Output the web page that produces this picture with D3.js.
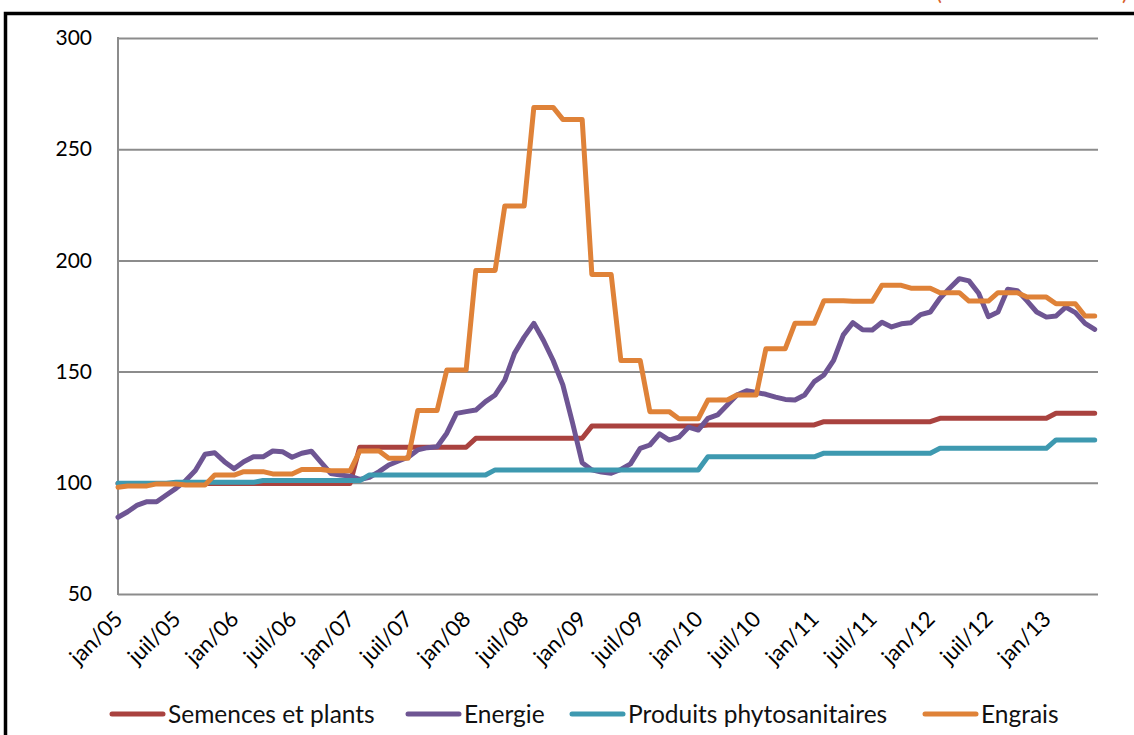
<!DOCTYPE html>
<html>
<head>
<meta charset="utf-8">
<script src="https://cdn.jsdelivr.net/npm/d3@7"></script>
<style>
  html, body { margin: 0; padding: 0; background: #ffffff; }
  svg { display: block; }
  text { font-family: Lato, "Open Sans", "Liberation Sans", sans-serif; }
</style>
</head>
<body>
<svg id="chart" width="1134" height="735"></svg>
<script>
// Monthly index values, jan/05 to juin/13 (base 100)
const monthNames = ["jan", "févr", "mars", "avr", "mai", "juin", "juil", "août", "sept", "oct", "nov", "déc"];
const months = d3.timeMonth.range(new Date(2005, 0, 1), new Date(2013, 6, 1));
const categories = months.map(d => monthNames[d.getMonth()] + "/" + String(d.getFullYear()).slice(2));

const tickLabels = ["jan/05", "juil/05", "jan/06", "juil/06", "jan/07", "juil/07", "jan/08", "juil/08",
  "jan/09", "juil/09", "jan/10", "juil/10", "jan/11", "juil/11", "jan/12", "juil/12", "jan/13"];
const yTicks = [50, 100, 150, 200, 250, 300];

const seriesNames = ["Semences et plants", "Energie", "Produits phytosanitaires", "Engrais"];
const seriesColors = ["#a9423f", "#6e5593", "#3e99b0", "#df8238"];

const semences = [
  99.7, 99.7, 99.7, 99.7, 99.7, 99.7, 99.7, 99.7, 99.7, 99.7, 99.7, 99.7,
  99.7, 99.7, 99.7, 99.7, 99.7, 99.7, 99.7, 99.7, 99.7, 99.7, 99.7, 99.7,
  99.7, 116, 116, 116, 116, 116, 116, 116, 116, 116, 116, 116,
  116, 120, 120, 120, 120, 120, 120, 120, 120, 120, 120, 120,
  120, 125.5, 125.5, 125.5, 125.5, 125.5, 125.5, 125.5, 125.5, 125.5, 125.5, 125.5,
  125.5, 126, 126, 126, 126, 126, 126, 126, 126, 126, 126, 126,
  126, 127.5, 127.5, 127.5, 127.5, 127.5, 127.5, 127.5, 127.5, 127.5, 127.5, 127.5,
  127.5, 129, 129, 129, 129, 129, 129, 129, 129, 129, 129, 129,
  129, 131.3, 131.3, 131.3, 131.3, 131.3
];

const energie = [
  84.5, 87, 90, 91.5, 91.5, 94.5, 97.5, 101, 105.5, 112.8, 113.5, 109.5,
  106.3, 109.5, 111.7, 111.7, 114.3, 114, 111.5, 113.3, 114.2, 109.2, 104.2, 103.5,
  103, 101.5, 102.5, 105, 108, 109.8, 111.5, 114.8, 115.8, 116.2, 122.3, 131.2,
  132, 132.7, 136.5, 139.5, 146.2, 158.2, 165.5, 171.7, 164, 155, 144, 127,
  109, 105.8, 104.8, 104.3, 106, 108.5, 115.5, 117, 122, 119.2, 120.5, 125,
  123.7, 129, 130.5, 135, 139.5, 141.4, 140.6, 139.8, 138.5, 137.5, 137.2, 139.5,
  145.5, 148.5, 155, 166.5, 172, 168.8, 168.7, 172.2, 170.1, 171.5, 172, 175.6,
  176.8, 183, 187.5, 191.8, 190.8, 185.2, 174.7, 176.8, 187, 186.4, 181.8, 176.8,
  174.5, 175, 179, 176.5, 171.7, 169
];

const phyto = [
  99.8, 99.8, 99.8, 99.8, 99.8, 99.8, 100.2, 100.2, 100.2, 100.2, 100.2, 100.2,
  100.2, 100.2, 100.2, 101, 101, 101, 101, 101, 101, 101, 101, 101,
  101, 101, 103.5, 103.5, 103.5, 103.5, 103.5, 103.5, 103.5, 103.5, 103.5, 103.5,
  103.5, 103.5, 103.5, 105.8, 105.8, 105.8, 105.8, 105.8, 105.8, 105.8, 105.8, 105.8,
  105.8, 105.8, 105.8, 105.8, 105.8, 105.8, 105.8, 105.8, 105.8, 105.8, 105.8, 105.8,
  105.8, 111.7, 111.7, 111.7, 111.7, 111.7, 111.7, 111.7, 111.7, 111.7, 111.7, 111.7,
  111.7, 113.3, 113.3, 113.3, 113.3, 113.3, 113.3, 113.3, 113.3, 113.3, 113.3, 113.3,
  113.3, 115.5, 115.5, 115.5, 115.5, 115.5, 115.5, 115.5, 115.5, 115.5, 115.5, 115.5,
  115.5, 119.3, 119.3, 119.3, 119.3, 119.3
];

const engrais = [
  98, 98.6, 98.6, 98.6, 99.5, 99.5, 99.5, 99, 99, 99, 103.5, 103.5,
  103.5, 105, 105, 105, 104, 104, 104, 106, 106, 106, 105.4, 105.4,
  105.4, 114.3, 114.3, 114.3, 111, 111, 111, 132.5, 132.5, 132.5, 150.7, 150.7,
  150.7, 195.5, 195.5, 195.5, 224.5, 224.5, 224.5, 268.8, 268.8, 268.8, 263.4, 263.4,
  263.4, 193.7, 193.7, 193.7, 155, 155, 155, 132, 132, 132, 128.8, 128.8,
  128.8, 137.2, 137.2, 137.2, 139.5, 139.5, 139.5, 160.3, 160.3, 160.3, 171.7, 171.7,
  171.7, 181.9, 181.9, 181.9, 181.6, 181.6, 181.6, 188.8, 188.8, 188.8, 187.5, 187.5,
  187.5, 185.5, 185.5, 185.5, 181.7, 181.7, 181.7, 185.5, 185.5, 185.5, 183.5, 183.5,
  183.5, 180.5, 180.5, 180.5, 175, 175
];

const seriesValues = [semences, energie, phyto, engrais];

// Layout
const W = 1134, H = 735;
const plot = { left: 118, right: 1098, top: 38, bottom: 594 };
const lastPointX = 1094.7;

const svg = d3.select("#chart");

const x = d3.scalePoint().domain(categories).range([plot.left, lastPointX]).padding(0);
const y = d3.scaleLinear().domain([50, 300]).range([plot.bottom, plot.top]);

// Outer frame (left and top edges of the surrounding box)
svg.append("path")
  .attr("d", `M5.5,${H + 5} L5.5,13.5 L${W + 5},13.5`)
  .attr("fill", "none")
  .attr("stroke", "#000")
  .attr("stroke-width", 3.5);

// Fragments of a note that sits above the frame
svg.append("text").attr("x", 936).attr("y", 0).attr("font-size", 22).attr("fill", "#d9602b").text("(");
svg.append("text").attr("x", 1122).attr("y", 0).attr("font-size", 22).attr("fill", "#d9602b").text(")");

// Y axis with horizontal gridlines
const yAxis = svg.append("g")
  .attr("transform", `translate(${plot.left},0)`)
  .call(d3.axisLeft(y).tickValues(yTicks).tickSize(-(plot.right - plot.left)).tickPadding(26).tickFormat(d3.format("d")));
yAxis.select(".domain").remove();
yAxis.selectAll(".tick line").attr("stroke", "#8c8c8c").attr("stroke-width", 2);
yAxis.selectAll(".tick text")
  .attr("font-size", 21)
  .attr("fill", "#000")
  .attr("font-family", "Lato, 'Open Sans', sans-serif");

// Left axis line
svg.append("line")
  .attr("x1", plot.left).attr("x2", plot.left)
  .attr("y1", plot.top - 1).attr("y2", plot.bottom + 1)
  .attr("stroke", "#8c8c8c").attr("stroke-width", 2);

// X axis: category labels every six months, rotated
const xAxis = svg.append("g")
  .attr("transform", `translate(0,${plot.bottom})`)
  .call(d3.axisBottom(x).tickValues(tickLabels).tickSize(0));
xAxis.select(".domain").remove();
xAxis.selectAll(".tick text")
  .attr("x", 0).attr("y", 0).attr("dy", "0.35em")
  .attr("text-anchor", "end")
  .attr("transform", "translate(0,21) rotate(-45)")
  .attr("font-size", 22)
  .attr("fill", "#000")
  .attr("font-family", "Lato, 'Open Sans', sans-serif");

// Series lines
const line = d3.line()
  .x((d, i) => x(categories[i]))
  .y(d => y(d));

svg.append("g")
  .selectAll("path")
  .data(seriesValues)
  .join("path")
  .attr("d", d => line(d))
  .attr("fill", "none")
  .attr("stroke", (d, i) => seriesColors[i])
  .attr("stroke-width", 5)
  .attr("stroke-linejoin", "round")
  .attr("stroke-linecap", "round");

// Legend
const legendY = 714;
const legendStarts = [112, 408, 572, 925];
const legend = svg.append("g");
seriesNames.forEach((name, i) => {
  const g = legend.append("g").attr("transform", `translate(${legendStarts[i]},${legendY})`);
  g.append("line")
    .attr("x1", 0).attr("x2", 51).attr("y1", 0).attr("y2", 0)
    .attr("stroke", seriesColors[i]).attr("stroke-width", 5).attr("stroke-linecap", "round");
  g.append("text")
    .attr("x", 56).attr("y", 0).attr("dy", "0.36em")
    .attr("font-size", 24.5)
    .attr("fill", "#111")
    .text(name);
});
</script>
</body>
</html>
